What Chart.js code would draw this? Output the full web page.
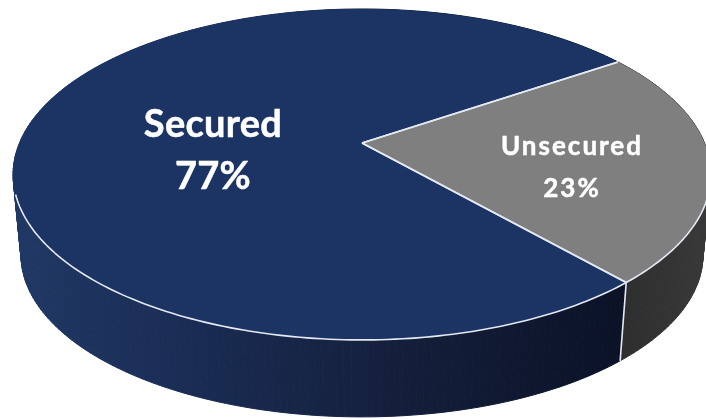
<!DOCTYPE html>
<html>
<head>
<meta charset="utf-8">
<title>Secured and unsecured share</title>
<script src="https://cdn.jsdelivr.net/npm/chart.js@4"></script>
<style>
    html, body { margin: 0; padding: 0; background: #ffffff; }
    canvas { display: block; }
</style>
</head>
<body>
<canvas id="pie-chart" width="706" height="419"></canvas>
<script>
const categories = ["Secured", "Unsecured"];
const shares = [77, 23];
const topColors = ["#1c3464", "#7f7f7f"];

// perspective of the disc: near side of the rim is drawn larger than the far side
const centerX = 362;
const topY = 143;
const bottomY = 224.5;
const bottomScale = 0.977;
const radiusX = 342.6;
const radiusY = 159.5;
const tilt = 0.19;
const edgeColor = "#e4e9f3";
const edgeWidth = 1.6;

const labelSpots = [
    { x: 213, y: 125, lineGap: 52, size: 38, spacing: 0.3 },
    { x: 572, y: 147, lineGap: 42, size: 26, spacing: 2 }
];

function rimPoint(angle, baseY, scale) {
    const u = Math.cos(angle);
    const v = Math.sin(angle);
    const depth = 1 - tilt * v;
    return {
        x: centerX + scale * radiusX * u / depth,
        y: baseY + scale * radiusY * v / depth
    };
}

function sampleAngles(start, end) {
    const angles = [];
    const steps = Math.ceil((end - start) / (Math.PI / 180));
    for (let i = 0; i <= steps; i++) {
        angles.push(start + (end - start) * i / steps);
    }
    return angles;
}

function wallGradient(ctx, index) {
    const gradient = ctx.createLinearGradient(15, 0, 706, 0);
    if (index === 0) {
        gradient.addColorStop(0, "#1f3864");
        gradient.addColorStop(0.25, "#1a2c54");
        gradient.addColorStop(0.5, "#15213f");
        gradient.addColorStop(0.88, "#0b1226");
        gradient.addColorStop(1, "#0b1226");
    } else {
        gradient.addColorStop(0, "#2b2b2b");
        gradient.addColorStop(0.88, "#2e2e2e");
        gradient.addColorStop(1, "#383838");
    }
    return gradient;
}

function drawWalls(ctx, arcs) {
    arcs.forEach((arc, index) => {
        const angles = sampleAngles(arc.startAngle, arc.endAngle);
        const paint = wallGradient(ctx, index);
        ctx.fillStyle = paint;
        ctx.strokeStyle = paint;
        ctx.lineWidth = 1;
        // one quad per step, the stroke closes the seams between them
        for (let i = 0; i < angles.length - 1; i++) {
            const a = rimPoint(angles[i], topY, 1);
            const b = rimPoint(angles[i + 1], topY, 1);
            const c = rimPoint(angles[i + 1], bottomY, bottomScale);
            const d = rimPoint(angles[i], bottomY, bottomScale);
            ctx.beginPath();
            ctx.moveTo(a.x, a.y);
            ctx.lineTo(b.x, b.y);
            ctx.lineTo(c.x, c.y);
            ctx.lineTo(d.x, d.y);
            ctx.closePath();
            ctx.fill();
            ctx.stroke();
        }
    });

    // the slice border that faces the viewer runs down the wall
    ctx.strokeStyle = edgeColor;
    ctx.lineWidth = edgeWidth;
    arcs.forEach(arc => {
        if (Math.sin(arc.startAngle) > 0) {
            const from = rimPoint(arc.startAngle, topY, 1);
            const to = rimPoint(arc.startAngle, bottomY, bottomScale);
            ctx.beginPath();
            ctx.moveTo(from.x, from.y);
            ctx.lineTo(to.x, to.y);
            ctx.stroke();
        }
    });
}

function drawTopFaces(ctx, arcs) {
    arcs.forEach(arc => {
        ctx.beginPath();
        ctx.moveTo(centerX, topY);
        sampleAngles(arc.startAngle, arc.endAngle).forEach(angle => {
            const p = rimPoint(angle, topY, 1);
            ctx.lineTo(p.x, p.y);
        });
        ctx.closePath();
        ctx.fillStyle = arc.options.backgroundColor;
        ctx.fill();
    });

    ctx.strokeStyle = edgeColor;
    ctx.lineWidth = edgeWidth;
    ctx.lineJoin = "round";
    arcs.forEach(arc => {
        // spokes from the centre out to the rim
        [arc.startAngle, arc.endAngle].forEach(angle => {
            const p = rimPoint(angle, topY, 1);
            ctx.beginPath();
            ctx.moveTo(centerX, topY);
            ctx.lineTo(p.x, p.y);
            ctx.stroke();
        });

        // only the near part of the rim carries the light edge
        const front = sampleAngles(arc.startAngle, arc.endAngle).filter(angle => Math.sin(angle) > 0.3);
        ctx.beginPath();
        front.forEach((angle, i) => {
            const p = rimPoint(angle, topY, 1);
            if (i === 0) {
                ctx.moveTo(p.x, p.y);
            } else {
                ctx.lineTo(p.x, p.y);
            }
        });
        ctx.stroke();
    });
}

function drawLabels(ctx) {
    ctx.fillStyle = "#ffffff";
    ctx.strokeStyle = "#ffffff";
    ctx.lineWidth = 0.5;
    ctx.textAlign = "center";
    ctx.textBaseline = "middle";
    categories.forEach((name, index) => {
        const spot = labelSpots[index];
        const percent = shares[index] + "%";
        ctx.font = "bold " + spot.size + "px Lato";
        ctx.letterSpacing = spot.spacing + "px";
        ctx.fillText(name, spot.x, spot.y);
        ctx.strokeText(name, spot.x, spot.y);
        ctx.fillText(percent, spot.x, spot.y + spot.lineGap);
        ctx.strokeText(percent, spot.x, spot.y + spot.lineGap);
    });
}

// Chart.js works out the slice angles, this plugin paints them as a tilted disc
const discPlugin = {
    id: "disc",
    beforeDatasetsDraw(chart) {
        const ctx = chart.ctx;
        const arcs = chart.getDatasetMeta(0).data;
        ctx.save();
        drawWalls(ctx, arcs);
        drawTopFaces(ctx, arcs);
        drawLabels(ctx);
        ctx.restore();
        return false;
    }
};

const data = {
    labels: categories,
    datasets: [{
        data: shares,
        backgroundColor: topColors,
        borderWidth: 0
    }]
};

const config = {
    type: "pie",
    data: data,
    options: {
        responsive: false,
        animation: false,
        rotation: 138.6,
        plugins: {
            legend: { display: false },
            tooltip: { enabled: false }
        }
    },
    plugins: [discPlugin]
};

new Chart(document.getElementById("pie-chart"), config);
</script>
</body>
</html>
